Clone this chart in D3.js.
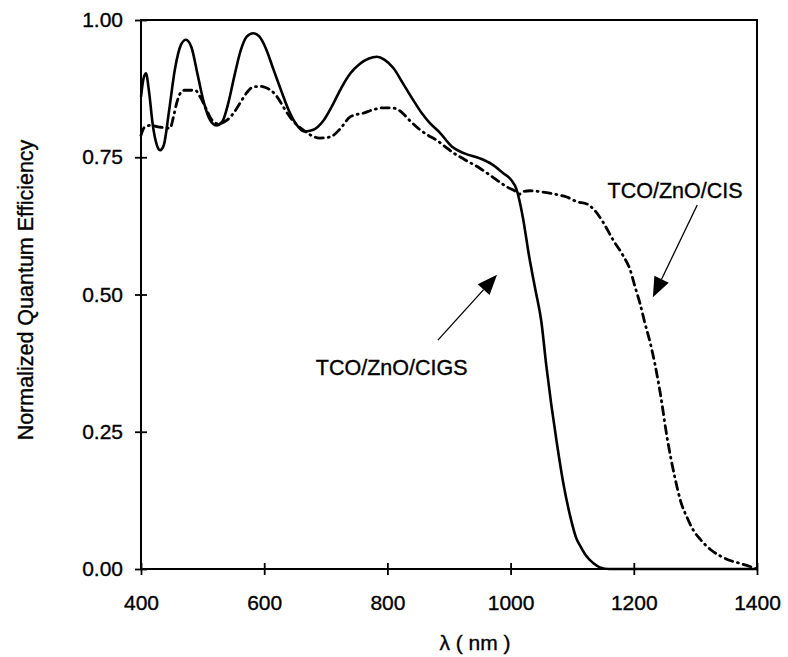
<!DOCTYPE html>
<html>
<head>
<meta charset="utf-8">
<script src="https://cdn.jsdelivr.net/npm/d3@7"></script>
<style>
  html, body { margin: 0; padding: 0; background: #fff; }
  svg { display: block; }
  text { font-family: "Liberation Sans", Arial, sans-serif; fill: #000; stroke: #000; stroke-width: 0.35px; }
</style>
</head>
<body>
<svg id="chart" width="788" height="657"></svg>
<script>
// ---------- data ----------
const xTicks = [400, 600, 800, 1000, 1200, 1400];
const yTicks = [0, 0.25, 0.5, 0.75, 1.0];

const cigsWavelength = [400,404,408,413,419,425,431,437,445,455,465,473,482,492,502,512,522,532,542,552,562,572,582,592,602,615,628,640,652,665,680,695,710,725,740,755,770,783,795,810,825,842,856,869,885,905,925,950,970,988,1000,1010,1020,1030,1040,1050,1058,1066,1075,1085,1097,1107,1113,1122,1135,1145,1160,1200,1300,1400];
const cigsQE = [0.86,0.893,0.903,0.87,0.81,0.775,0.763,0.772,0.83,0.91,0.955,0.964,0.95,0.90,0.85,0.818,0.808,0.815,0.85,0.90,0.945,0.97,0.976,0.97,0.95,0.91,0.87,0.835,0.81,0.797,0.80,0.815,0.843,0.876,0.903,0.92,0.93,0.933,0.928,0.912,0.885,0.854,0.83,0.812,0.795,0.769,0.757,0.748,0.737,0.721,0.71,0.69,0.64,0.57,0.51,0.45,0.37,0.30,0.23,0.16,0.095,0.055,0.042,0.025,0.01,0.003,0.0,0.0,0.0,0.0];

const cisWavelength = [400,406,415,430,447,453,458,463,470,488,496,505,515,525,540,550,561,572,582,594,604,613,621,632,642,652,663,676,690,707,722,739,750,760,775,793,805,815,825,838,853,866,880,893,907,925,950,972,994,1008,1015,1022,1031,1050,1070,1090,1108,1124,1135,1150,1166,1182,1194,1202,1210,1218,1226,1234,1243,1254,1267,1277,1286,1297,1308,1325,1340,1355,1373,1390,1400];
const cisQE = [0.79,0.805,0.808,0.805,0.803,0.825,0.849,0.865,0.872,0.872,0.86,0.84,0.818,0.811,0.818,0.83,0.849,0.868,0.878,0.879,0.876,0.87,0.86,0.84,0.823,0.81,0.80,0.79,0.785,0.787,0.80,0.823,0.828,0.83,0.836,0.84,0.84,0.838,0.83,0.815,0.80,0.79,0.781,0.77,0.758,0.746,0.730,0.713,0.696,0.688,0.683,0.688,0.689,0.687,0.683,0.678,0.669,0.665,0.655,0.632,0.60,0.572,0.545,0.514,0.484,0.448,0.415,0.375,0.32,0.24,0.165,0.12,0.095,0.07,0.054,0.035,0.024,0.016,0.010,0.004,0.0];

const labelTexts = ["TCO/ZnO/CIGS", "TCO/ZnO/CIS"];
const labelX = [807, 1267];
const labelY = [0.353, 0.676];
const arrowFromX = [882, 1303];
const arrowFromY = [0.417, 0.663];
const arrowToX = [978, 1231];
const arrowToY = [0.536, 0.495];

// ---------- layout ----------
const svg = d3.select("#chart");
const mLeft = 141, mTop = 20, mRight = 757, mBottom = 569;
const x = d3.scaleLinear().domain([400, 1400]).range([mLeft, mRight]);
const y = d3.scaleLinear().domain([0, 1]).range([mBottom, mTop]);
const fs = 21;

// frame
svg.append("rect")
  .attr("x", mLeft).attr("y", mTop)
  .attr("width", mRight - mLeft).attr("height", mBottom - mTop)
  .attr("fill", "none").attr("stroke", "#000").attr("stroke-width", 2);

// x axis
const gx = svg.append("g").attr("transform", `translate(0,${mBottom})`)
  .call(d3.axisBottom(x).tickValues(xTicks).tickSize(6).tickPadding(20).tickFormat(d3.format("d")));
gx.select(".domain").remove();
gx.selectAll(".tick line").attr("y1", -6).attr("y2", 6).attr("stroke", "#000").attr("stroke-width", 1.8);
gx.selectAll(".tick text").attr("font-size", fs).attr("font-family", "Liberation Sans, Arial, sans-serif");

// y axis
const gy = svg.append("g").attr("transform", `translate(${mLeft},0)`)
  .call(d3.axisLeft(y).tickValues(yTicks).tickSize(6).tickPadding(12).tickFormat(d3.format(".2f")));
gy.select(".domain").remove();
gy.selectAll(".tick line").attr("x1", -6).attr("x2", 6).attr("stroke", "#000").attr("stroke-width", 1.8);
gy.selectAll(".tick text").attr("font-size", fs).attr("font-family", "Liberation Sans, Arial, sans-serif");

// axis titles
svg.append("text")
  .attr("x", 475).attr("y", 650)
  .attr("text-anchor", "middle").attr("font-size", fs)
  .text("λ ( nm )");
svg.append("text")
  .attr("transform", "translate(33,290) rotate(-90)")
  .attr("text-anchor", "middle").attr("font-size", 21.5)
  .text("Normalized Quantum Efficiency");

// curves
const line = d3.line().x(d => x(d[0])).y(d => y(d[1])).curve(d3.curveMonotoneX);
svg.append("path")
  .datum(cigsWavelength.map((w, i) => [w, cigsQE[i]]))
  .attr("d", line).attr("fill", "none").attr("stroke", "#000")
  .attr("stroke-width", 2.6).attr("stroke-linejoin", "round");
svg.append("path")
  .datum(cisWavelength.map((w, i) => [w, cisQE[i]]))
  .attr("d", line).attr("fill", "none").attr("stroke", "#000")
  .attr("stroke-width", 2.8).attr("stroke-linecap", "round")
  .attr("stroke-dasharray", "8,5,1,5");

// annotations
labelTexts.forEach((t, i) => {
  svg.append("text")
    .attr("x", x(labelX[i])).attr("y", y(labelY[i]))
    .attr("text-anchor", "middle").attr("font-size", 21.5)
    .text(t);
  const x1 = x(arrowFromX[i]), y1 = y(arrowFromY[i]);
  const x2 = x(arrowToX[i]), y2 = y(arrowToY[i]);
  const ang = Math.atan2(y2 - y1, x2 - x1);
  const hl = 20, hw = 8;
  const bx = x2 - hl * Math.cos(ang), by = y2 - hl * Math.sin(ang);
  svg.append("line")
    .attr("x1", x1).attr("y1", y1).attr("x2", bx).attr("y2", by)
    .attr("stroke", "#000").attr("stroke-width", 1.3);
  const px = -Math.sin(ang), py = Math.cos(ang);
  svg.append("path")
    .attr("d", `M${x2},${y2}L${bx + px * hw},${by + py * hw}L${bx - px * hw},${by - py * hw}Z`)
    .attr("fill", "#000");
});
</script>
</body>
</html>
